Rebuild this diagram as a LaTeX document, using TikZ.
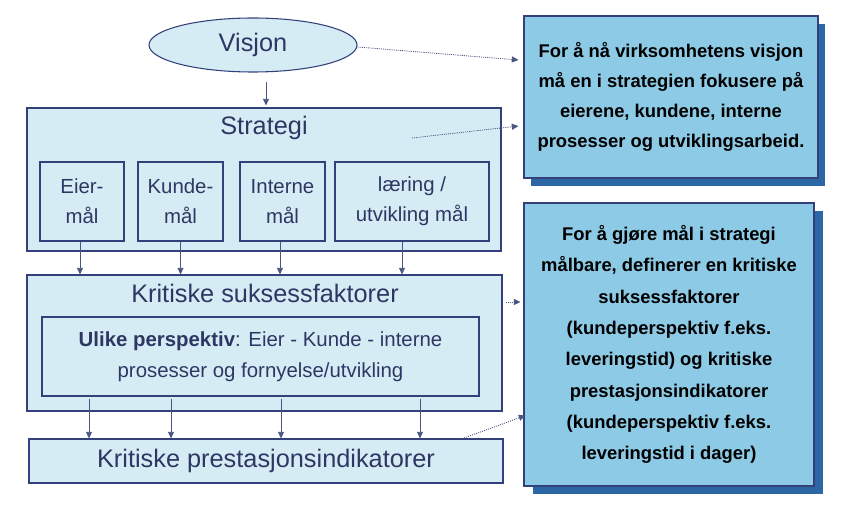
\documentclass[tikz,border=0pt]{standalone}
\usepackage{fontspec}
\setmainfont{Liberation Sans}
\usetikzlibrary{shapes.geometric,arrows.meta}
\definecolor{lightfill}{HTML}{D6ECF5}
\definecolor{navy}{HTML}{34407A}
\definecolor{navytext}{HTML}{2E3763}
\definecolor{skyfill}{HTML}{8DCAE6}
\definecolor{shadowblue}{HTML}{2C66A5}
\definecolor{arrowgray}{HTML}{4A5580}
\tikzset{
  box/.style={draw=navy, line width=0.8pt, fill=lightfill, inner sep=0pt},
  subbox/.style={draw=navy, line width=0.8pt, inner sep=0pt, align=center, text=navytext,
    font=\fontsize{15.3}{22.5}\selectfont},
  bigtext/.style={text=navytext, font=\fontsize{19}{22}\selectfont, inner sep=0pt},
  infobox/.style={draw=navy, line width=0.8pt, fill=skyfill, align=center, inner sep=0pt, text=black},
  shadowbox/.style={fill=shadowblue, draw=none, inner sep=0pt},
  arr/.style={draw=arrowgray, line width=0.7pt, -{Triangle[length=5pt,width=4.5pt]}},
  dotarr/.style={draw=arrowgray, line width=0.6pt, dash pattern=on 0.8pt off 0.8pt,
    -{Triangle[length=5pt,width=4.5pt]}}
}
\begin{document}
\begin{tikzpicture}[x=0.75pt,y=-0.75pt]
\useasboundingbox (0,0) rectangle (841,506);
% left column
\node[ellipse, draw=navy, line width=0.8pt, fill=lightfill, minimum width=156pt, minimum height=40.5pt, inner sep=0pt] (vis) at (253,45) {};
\node[bigtext] (vistxt) at (253,45) {Visjon};

\node[box, minimum width=355.5pt, minimum height=107.25pt] (strat) at (264,179.5) {};
\node[bigtext] (strattxt) at (264,128) {Strategi};
\node[subbox, minimum width=63pt, minimum height=59.25pt] (eier) at (82,201.5) {Eier-\\mål};
\node[subbox, minimum width=63.75pt, minimum height=59.25pt] (kunde) at (180.5,201.5) {Kunde-\\mål};
\node[subbox, minimum width=63.75pt, minimum height=59.25pt] (intern) at (282.5,201.5) {Interne\\mål};
\node[subbox, minimum width=115.5pt, minimum height=59.25pt] (laer) at (412,201.5) {læring /\\utvikling mål};

\node[box, minimum width=356.25pt, minimum height=102pt] (ksf) at (264.5,343) {};
\node[bigtext] (ksftxt) at (265,293) {Kritiske suksessfaktorer};
\node[subbox, minimum width=327.75pt, minimum height=59.25pt, font=\fontsize{15.3}{23.2}\selectfont] (ulike) at (260.5,356.5)
  {\textbf{Ulike perspektiv}: Eier - Kunde - interne\\prosesser og fornyelse/utvikling};

\node[box, minimum width=355.5pt, minimum height=33pt] (kpi) at (266,461) {};
\node[bigtext] (kpitxt) at (266,461) {Kritiske prestasjonsindikatorer};

% info boxes
\node[shadowbox, minimum width=220.5pt, minimum height=121.5pt] (sh1) at (678,105) {};
\node[infobox, minimum width=220.5pt, minimum height=121.5pt, font=\bfseries\fontsize{13.8}{22.5}\selectfont] (info1) at (671,97)
  {For å nå virksomhetens visjon\\må en i strategien fokusere på\\eierene, kundene, interne\\prosesser og utviklingsarbeid.};
\node[shadowbox, minimum width=217.5pt, minimum height=212.25pt] (sh2) at (678,352.5) {};
\node[infobox, minimum width=217.5pt, minimum height=212.25pt, font=\bfseries\fontsize{13.8}{23.5}\selectfont] (info2) at (669,344.5)
  {For å gjøre mål i strategi\\målbare, definerer en kritiske\\suksessfaktorer\\(kundeperspektiv f.eks.\\leveringstid) og kritiske\\prestasjonsindikatorer\\(kundeperspektiv f.eks.\\leveringstid i dager)};

% solid arrows
\draw[arr] ([shift={(13,9)}]vis.south) -- ([shift={(2,-2)}]strat.north);
\draw[arr] ([xshift=-1.5pt]eier.south) -- ([xshift=-1.5pt]eier.south |- ksf.north);
\draw[arr] (kunde.south) -- (kunde.south |- ksf.north);
\draw[arr] ([xshift=-1.9pt]intern.south) -- ([xshift=-1.9pt]intern.south |- ksf.north);
\draw[arr] ([xshift=-7.5pt]laer.south) -- ([xshift=-7.5pt]laer.south |- ksf.north);

\draw[arr] ([shift={(-171.5,2)}]ulike.south) -- ([shift={(-171.5,0)}]ulike.south |- kpi.north);
\draw[arr] ([shift={(-89.5,2)}]ulike.south) -- ([shift={(-89.5,0)}]ulike.south |- kpi.north);
\draw[arr] ([shift={(20.5,2)}]ulike.south) -- ([shift={(20.5,0)}]ulike.south |- kpi.north);
\draw[arr] ([shift={(159.5,2)}]ulike.south) -- ([shift={(159.5,0)}]ulike.south |- kpi.north);

% dotted arrows
\draw[dotarr] ([shift={(0,2)}]vis.east) -- ([shift={(-5,-37)}]info1.west);
\draw[dotarr] ([shift={(148,-41.5)}]strat.center) -- ([shift={(-5,29)}]info1.west);
\draw[dotarr] ([shift={(3,-41)}]ksf.east) -- ([shift={(-3,-42.5)}]info2.west);
\draw[dotarr] ([shift={(194,1)}]kpi.north) -- ([shift={(2,71)}]info2.west);
\end{tikzpicture}
\end{document}
